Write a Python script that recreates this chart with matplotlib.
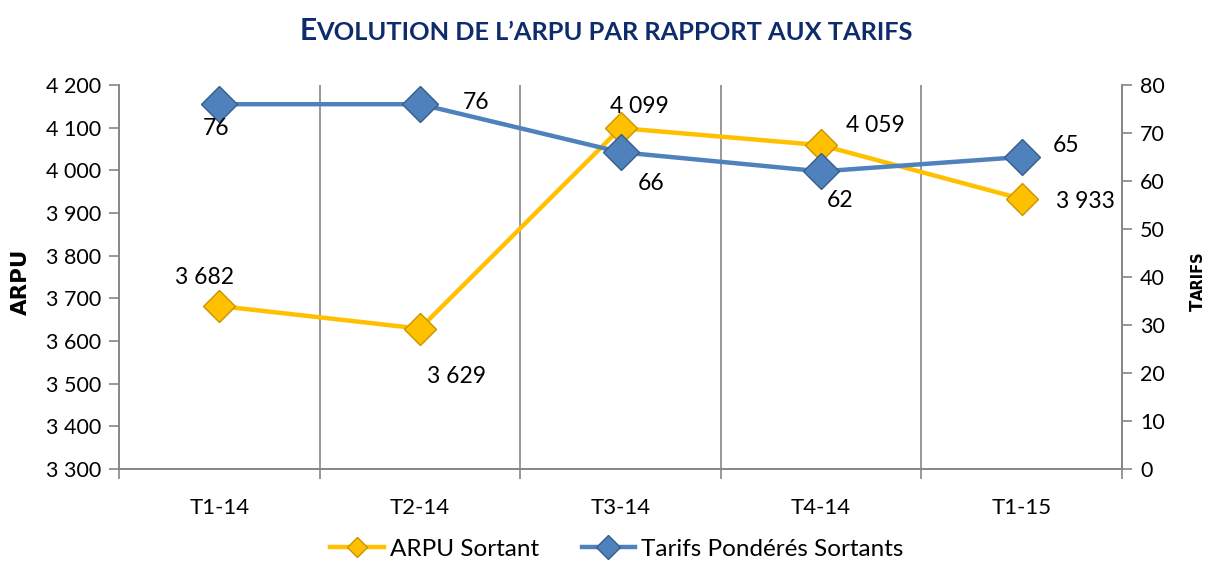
import matplotlib
matplotlib.use("Agg")
import matplotlib.pyplot as plt
from matplotlib.lines import Line2D

plt.rcParams['font.family'] = ['Lato', 'DejaVu Sans']

# data
quarters = ['T1-14', 'T2-14', 'T3-14', 'T4-14', 'T1-15']
arpu = [3682, 3629, 4099, 4059, 3933]
tarifs = [76, 76, 66, 62, 65]

arpu_ticks = [3300, 3400, 3500, 3600, 3700, 3800, 3900, 4000, 4100, 4200]
tarif_ticks = [0, 10, 20, 30, 40, 50, 60, 70, 80]

# label offsets in pixels (dx, dy)
arpu_offsets = [(-15, 29), (37, -48), (19, 22), (54, 20), (64, -3)]
tarif_offsets = [(-3, -24), (56, 2), (31, -31), (19, -29), (44, 12)]

gold = '#FFC000'
gold_edge = '#C89400'
blue = '#4F81BD'
blue_edge = '#385D8A'
grey = '#868686'
navy = '#0E2B6B'

W, H = 1213, 561
fig = plt.figure(figsize=(W / 100, H / 100), dpi=100)
ax = fig.add_axes([119 / W, 1 - 469 / H, (1122 - 119) / W, (469 - 85) / H])
ax2 = ax.twinx()

x = list(range(len(quarters)))


def fmt(v):
    return f"{v:,}".replace(',', ' ')


ax.plot(x, arpu, color=gold, lw=3.2, marker='D', ms=16, mfc=gold,
        mec=gold_edge, mew=1, zorder=3)
ax2.plot(x, tarifs, color=blue, lw=3.2, marker='D', ms=18, mfc=blue,
         mec=blue_edge, mew=1, zorder=3)

for xi, v, (dx, dy) in zip(x, arpu, arpu_offsets):
    ax.annotate(fmt(v), (xi, v), xytext=(dx, dy), textcoords='offset pixels',
                ha='center', va='center', fontsize=16.5, color='black', zorder=5)
for xi, v, (dx, dy) in zip(x, tarifs, tarif_offsets):
    ax2.annotate(str(v), (xi, v), xytext=(dx, dy), textcoords='offset pixels',
                 ha='center', va='center', fontsize=16.5, color='black', zorder=5)

ax.set_xlim(-0.5, len(quarters) - 0.5)
ax.set_ylim(3300, 4200)
ax2.set_ylim(0, 80)

ax.set_xticks(x)
ax.set_xticklabels(quarters, fontsize=16)
ax.set_xticks([i - 0.5 for i in range(len(quarters) + 1)], minor=True)
ax.tick_params(axis='x', which='major', length=0, pad=21)
ax.tick_params(axis='x', which='minor', length=7, color=grey, width=1.2)
for b in range(1, len(quarters)):
    ax.axvline(b - 0.5, color=grey, lw=1.2, zorder=1)

ax.set_yticks(arpu_ticks)
ax.set_yticklabels([fmt(t) for t in arpu_ticks], fontsize=15.5)
ax.tick_params(axis='y', length=7, color=grey, width=1.2, pad=6)
ax2.set_yticks(tarif_ticks)
ax2.set_yticklabels([str(t) for t in tarif_ticks], fontsize=15.5)
ax2.tick_params(axis='y', length=7, color=grey, width=1.2, pad=6)

for a in (ax, ax2):
    a.spines['top'].set_visible(False)
    for s in ('left', 'right', 'bottom'):
        a.spines[s].set_color(grey)
        a.spines[s].set_linewidth(1.2)

ax.text(21 / W, 1 - 282 / H, 'ARPU', transform=fig.transFigure, rotation=90,
        ha='center', va='center', fontsize=15.5, fontweight='bold',
        family='DejaVu Sans')

renderer = fig.canvas.get_renderer()


def small_caps(segments, cx, base, color, rotation=0, family=None):
    # place pieces of text one after another on a common baseline
    texts = []
    for s, size in segments:
        t = fig.text(0, 0, s, fontsize=size, fontweight='bold', color=color,
                     ha='left', va='baseline', rotation=rotation,
                     rotation_mode='anchor', transform=None)
        if family:
            t.set_family(family)
        texts.append(t)
    lens = []
    for t in texts:
        bb = t.get_window_extent(renderer)
        lens.append(bb.height if rotation else bb.width)
    total = sum(lens)
    pos = cx - total / 2
    for t, ln in zip(texts, lens):
        if rotation:
            t.set_position((base, pos))
        else:
            t.set_position((pos, base))
        pos += ln


small_caps([('E', 21.5), ('VOLUTION DE L’ARPU PAR RAPPORT AUX TARIFS', 18.3)],
           606, H - 40, navy)
small_caps([('T', 12), ('ARIFS', 10.5)], H - 281, 1203, 'black', rotation=90,
           family='DejaVu Sans')

handles = [
    Line2D([], [], color=gold, lw=3.2, marker='D', ms=10, mfc=gold, mec=gold_edge),
    Line2D([], [], color=blue, lw=3.2, marker='D', ms=12, mfc=blue, mec=blue_edge),
]
fig.legend(handles, ['ARPU Sortant', 'Tarifs Pondérés Sortants'], loc='center',
           bbox_to_anchor=(617 / W, 1 - 549 / H), ncol=2, frameon=False,
           fontsize=17.5, handlelength=2.2, columnspacing=1.75, handletextpad=0.25)

fig.savefig('out.png', dpi=100)
